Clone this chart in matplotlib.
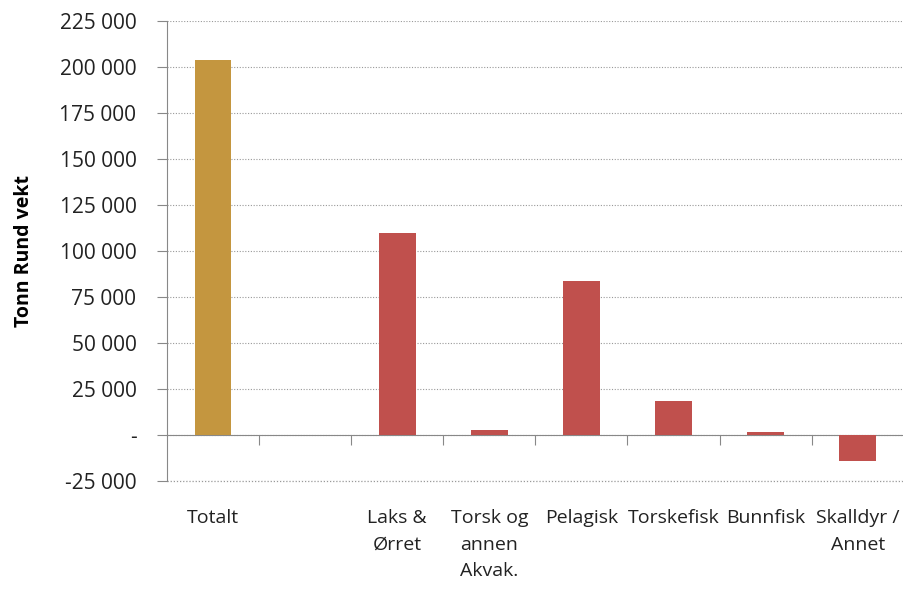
import matplotlib.pyplot as plt
import matplotlib.transforms as mtransforms
import numpy as np

# data
categories = ["Totalt", "", "Laks &\nØrret", "Torsk og\nannen\nAkvak.", "Pelagisk",
              "Torskefisk", "Bunnfisk", "Skalldyr /\nAnnet"]
values = [204000, 0, 110000, 2700, 83700, 18400, 1600, -14100]
bar_colors = ["#C4963F", "#C0504D", "#C0504D", "#C0504D", "#C0504D",
              "#C0504D", "#C0504D", "#C0504D"]
yticks = [-25000, 0, 25000, 50000, 75000, 100000, 125000, 150000, 175000, 200000, 225000]

plt.rcParams['font.family'] = ['Open Sans', 'DejaVu Sans']

fig = plt.figure(figsize=(9.04, 5.89), dpi=100)
ax = fig.add_axes([0.1847, 0.1834, 0.815, 0.7809])

x = np.arange(len(categories))
ax.bar(x, values, width=0.4, color=bar_colors, zorder=3)

ax.set_xlim(-0.5, len(categories) - 0.5)
ax.set_ylim(-25000, 225000)

def fmt(v):
    if v == 0:
        return "-"
    return "{:,}".format(int(v)).replace(",", " ")

ax.set_yticks(yticks)
ax.set_yticklabels([fmt(v) for v in yticks], fontsize=15, color="#222222")
ax.tick_params(axis='y', direction='out', length=7, color="#888888", pad=15)

# dotted gridlines
ax.grid(axis='y', linestyle=(0, (1, 1.5)), color="#999999", linewidth=0.8, zorder=0)
ax.axhline(-25000, linestyle=(0, (1, 1.5)), color="#999999", linewidth=0.9, clip_on=False, zorder=0)

# x axis at zero with ticks at category boundaries
ax.spines['bottom'].set_position(('data', 0))
ax.spines['bottom'].set_color("#888888")
ax.spines['left'].set_color("#888888")
ax.spines['top'].set_visible(False)
ax.spines['right'].set_visible(False)
ax.set_xticks(np.arange(0.5, len(categories) - 0.5, 1))
ax.set_xticklabels([])
ax.tick_params(axis='x', direction='out', length=7, color="#888888")

# category labels under the plot area
trans = mtransforms.blended_transform_factory(ax.transData, ax.transAxes)
for xi, lab in zip(x, categories):
    ax.text(xi, -0.062, lab, transform=trans, ha='center', va='top',
            fontsize=14, color="#222222", linespacing=1.6)

ax.set_ylabel("Tonn Rund vekt", fontsize=14, fontweight='bold', labelpad=18)

plt.savefig("out.png", dpi=100)
